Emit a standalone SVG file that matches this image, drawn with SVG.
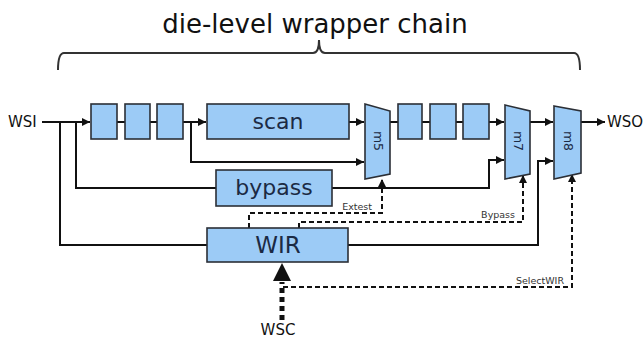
<svg xmlns="http://www.w3.org/2000/svg" width="644" height="338" viewBox="0 0 644 338">
  <defs>
    <style>
      .blk { fill: #9ccbf6; stroke: #2b2f36; stroke-width: 1.6; }
      .wire { fill: none; stroke: #111; stroke-width: 2; }
      .ctl { fill: none; stroke: #111; stroke-width: 2; stroke-dasharray: 5 3; }
      .lbl { font-family: "DejaVu Sans", Verdana, sans-serif; fill: #1b2a44; text-anchor: middle; dominant-baseline: central; }
      .io { font-family: "DejaVu Sans", Verdana, sans-serif; fill: #111; font-size: 15px; dominant-baseline: central; }
      .sm { font-family: "DejaVu Sans", Verdana, sans-serif; fill: #333; font-size: 9.5px; }
      .mux { font-family: "DejaVu Sans", Verdana, sans-serif; fill: #1b2a44; font-size: 12.5px; text-anchor: middle; dominant-baseline: central; }
    </style>
    <marker id="arr" viewBox="0 0 10 10" refX="10" refY="5" markerWidth="4" markerHeight="4" orient="auto" markerUnits="strokeWidth">
      <path d="M0,0 L10,5 L0,10 z" fill="#111"/>
    </marker>
  </defs>

  <!-- title and brace -->
  <text x="315" y="33" font-family="DejaVu Sans, Verdana, sans-serif" font-size="26" fill="#111" text-anchor="middle">die-level wrapper chain</text>
  <path d="M58,70 Q58,53 64,53 L313,53 Q319,53 319,40 Q319,53 325,53 L574,53 Q580,53 580,70" fill="none" stroke="#333" stroke-width="2"/>

  <!-- connectors -->
  <g id="connectors">
    <!-- serial path -->
    <path class="wire" d="M42,122 L90,122" marker-end="url(#arr)"/>
    <path class="wire" d="M117,122 L125,122 M150,122 L157,122"/>
    <path class="wire" d="M183,122 L206,122" marker-end="url(#arr)"/>
    <path class="wire" d="M349,122 L364,122" marker-end="url(#arr)"/>
    <path class="wire" d="M390,122 L398,122 M422,122 L430,122 M456,122 L463,122"/>
    <path class="wire" d="M489,122 L504,122" marker-end="url(#arr)"/>
    <path class="wire" d="M530,122 L553,122" marker-end="url(#arr)"/>
    <path class="wire" d="M581,122 L605,122" marker-end="url(#arr)"/>
    <!-- bypass of scan -->
    <path class="wire" d="M191,122 L191,162 L364,162" marker-end="url(#arr)"/>
    <!-- WSI to bypass register -->
    <path class="wire" d="M76,122 L76,188 L216,188"/>
    <path class="wire" d="M332,188 L489,188 L489,160 L504,160" marker-end="url(#arr)"/>
    <!-- WSI to WIR -->
    <path class="wire" d="M60,122 L60,245 L207,245"/>
    <path class="wire" d="M348,245 L538,245 L538,161 L553,161" marker-end="url(#arr)"/>
    <!-- control signals -->
    <path class="ctl" d="M249,228 L249,213 L382,213 L382,179" marker-end="url(#arr)"/>
    <path class="ctl" d="M299,228 L299,222 L523,222 L523,175" marker-end="url(#arr)"/>
    <path class="ctl" d="M283,287 L572,287 L572,174" marker-end="url(#arr)"/>
    <!-- WSC -->
    <path d="M282,320 L282,282" fill="none" stroke="#111" stroke-width="5" stroke-dasharray="5 4"/>
    <path d="M273,281 L291,281 L282,263 z" fill="#111"/>
    <text class="sm" x="372" y="210" text-anchor="end">Extest</text>
    <text class="sm" x="515" y="218" text-anchor="end">Bypass</text>
    <text class="sm" x="564" y="284" text-anchor="end">SelectWIR</text>
  </g>

  <!-- ports -->
  <g id="WSI"><text class="io" x="8" y="122">WSI</text></g>
  <g id="WSO"><text class="io" x="607" y="122">WSO</text></g>
  <g id="WSC"><text class="io" x="278" y="330" text-anchor="middle">WSC</text></g>

  <!-- wrapper input cells -->
  <g id="wic1"><rect class="blk" x="91" y="104" width="26" height="35"/></g>
  <g id="wic2"><rect class="blk" x="125" y="104" width="25" height="35"/></g>
  <g id="wic3"><rect class="blk" x="157" y="104" width="26" height="35"/></g>

  <g id="scan"><rect class="blk" x="207" y="104" width="142" height="35"/><text class="lbl" x="278" y="121" font-size="22">scan</text></g>
  <g id="bypass"><rect class="blk" x="216" y="170" width="116" height="36"/><text class="lbl" x="274" y="187" font-size="22">bypass</text></g>
  <g id="WIR"><rect class="blk" x="207" y="228" width="141" height="34"/><text class="lbl" x="278" y="245" font-size="23">WIR</text></g>

  <!-- wrapper output cells -->
  <g id="woc1"><rect class="blk" x="398" y="104" width="24" height="35"/></g>
  <g id="woc2"><rect class="blk" x="430" y="104" width="26" height="35"/></g>
  <g id="woc3"><rect class="blk" x="463" y="104" width="26" height="35"/></g>

  <!-- multiplexers -->
  <g id="m5"><path class="blk" d="M365,104 L390,111 L390,174 L365,179 z"/><text class="mux" transform="translate(378,141) rotate(90)">m5</text></g>
  <g id="m7"><path class="blk" d="M505,105 L530,111 L530,174 L505,179 z"/><text class="mux" transform="translate(518,141) rotate(90)">m7</text></g>
  <g id="m8"><path class="blk" d="M554,106 L581,111 L581,173 L554,179 z"/><text class="mux" transform="translate(568,141) rotate(90)">m8</text></g>
</svg>
